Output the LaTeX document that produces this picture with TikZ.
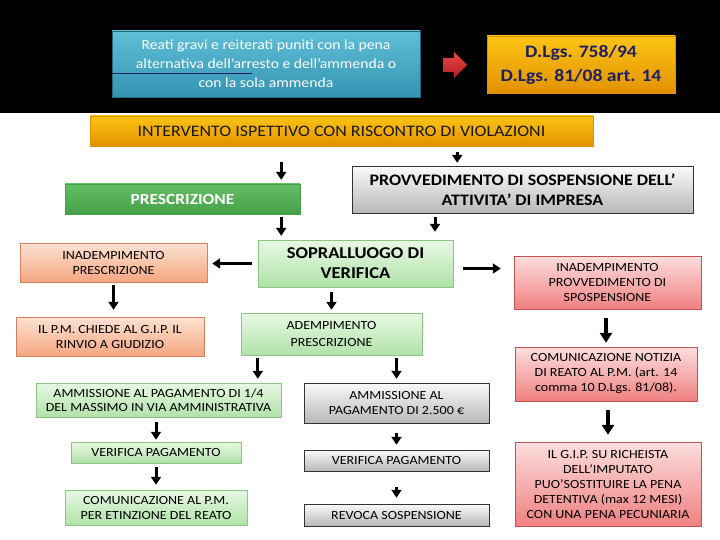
\documentclass[tikz,border=0pt]{standalone}
\usepackage{fontspec}
\setmainfont{Carlito}[FakeStretch=1.12]
\usetikzlibrary{arrows.meta,shapes.arrows}

\definecolor{bluetop}{RGB}{96,190,214}
\definecolor{bluebot}{RGB}{52,148,178}
\definecolor{navytext}{RGB}{30,32,100}
\definecolor{orangetop}{RGB}{252,196,20}
\definecolor{orangebot}{RGB}{226,146,0}
\definecolor{redtop}{RGB}{232,70,70}
\definecolor{redbot}{RGB}{176,30,36}
\definecolor{grntop}{RGB}{100,190,100}
\definecolor{grnbot}{RGB}{70,160,72}
\definecolor{lgrntop}{RGB}{232,248,228}
\definecolor{lgrnbot}{RGB}{176,226,168}
\definecolor{lgrnline}{RGB}{140,196,130}
\definecolor{salmtop}{RGB}{252,226,210}
\definecolor{salmbot}{RGB}{244,166,128}
\definecolor{salmline}{RGB}{208,130,96}
\definecolor{pinktop}{RGB}{252,222,222}
\definecolor{pinkbot}{RGB}{240,128,128}
\definecolor{pinkline}{RGB}{192,82,82}
\definecolor{greytop}{RGB}{250,250,250}
\definecolor{greybot}{RGB}{184,184,184}

\begin{document}
\begin{tikzpicture}[x=1pt,y=-1pt]
\tikzset{
  box/.style={rectangle,draw,inner sep=2pt,align=center,font=\fontsize{12.5}{15}\selectfont},
  bluebox/.style={box,draw=bluebot!70!black,top color=bluetop,bottom color=bluebot,text=white,font=\fontsize{14}{19}\selectfont},
  orangebox/.style={box,draw=orangebot,top color=orangetop,bottom color=orangebot},
  greenbox/.style={box,draw=grnbot,top color=grntop,bottom color=grnbot,text=white},
  lgreenbox/.style={box,draw=lgrnline,top color=lgrntop,bottom color=lgrnbot},
  salmonbox/.style={box,draw=salmline,top color=salmtop,bottom color=salmbot},
  pinkbox/.style={box,draw=pinkline,top color=pinktop,bottom color=pinkbot},
  greybox/.style={box,draw=black!80,top color=greytop,bottom color=greybot},
  blockarrow/.style={-{Triangle[width=10pt,length=8pt]},line width=3pt},
  bigarrow/.style={-{Triangle[width=12pt,length=10pt]},line width=4pt}
}
\useasboundingbox (0,0) rectangle (720,540);
\fill[black] (0,0) rectangle (720,113);
\node[bluebox,minimum width=308pt,minimum height=66pt] (reati) at (266,64)
  {Reati gravi e reiterati puniti con la pena\\alternativa dell’arresto e dell’ammenda o\\con la sola ammenda};
\draw[navytext,line width=0.8pt] ([yshift=-9pt]reati.west) -- ++(140,0);
\node[single arrow,draw=none,top color=redtop,bottom color=redbot,minimum height=24pt,
  single arrow head extend=6pt,inner sep=7pt] (redarrow) at (451.5,65) {};
\node[orangebox,minimum width=188pt,minimum height=57pt,text=navytext,font=\bfseries\fontsize{17.5}{24}\selectfont] (dlgs) at (581,64.5)
  {D.Lgs. 758/94\\D.Lgs. 81/08 art. 14};
\node[orangebox,minimum width=503pt,minimum height=30pt,text=black!90,font=\fontsize{16}{18}\selectfont] (intervento) at (341.5,131)
  {INTERVENTO ISPETTIVO CON RISCONTRO DI VIOLAZIONI};
\node[greenbox,minimum width=235pt,minimum height=30pt,font=\bfseries\fontsize{15.5}{18}\selectfont] (prescr) at (182.5,199)
  {PRESCRIZIONE};
\node[greybox,minimum width=341pt,minimum height=47pt,font=\bfseries\fontsize{16}{19.5}\selectfont] (provv) at (522.5,189.5)
  {PROVVEDIMENTO DI SOSPENSIONE DELL’\\ATTIVITA’ DI IMPRESA};
\node[lgreenbox,minimum width=195pt,minimum height=47pt,font=\bfseries\fontsize{16.5}{20}\selectfont] (sopr) at (355.5,263.5)
  {SOPRALLUOGO DI\\VERIFICA};
\node[salmonbox,minimum width=187pt,minimum height=39pt] (inadpres) at (113.5,262.5)
  {INADEMPIMENTO\\PRESCRIZIONE};
\node[pinkbox,minimum width=187pt,minimum height=53pt] (inadprovv) at (607.5,282.5)
  {INADEMPIMENTO\\PROVVEDIMENTO DI\\SPOSPENSIONE};
\node[salmonbox,minimum width=188pt,minimum height=39pt] (ilpm) at (110,336.5)
  {IL P.M. CHIEDE AL G.I.P. IL\\RINVIO A GIUDIZIO};
\node[lgreenbox,minimum width=181pt,minimum height=42pt,font=\fontsize{12.5}{17}\selectfont] (adem) at (331.5,334)
  {ADEMPIMENTO\\PRESCRIZIONE};
\node[pinkbox,minimum width=182pt,minimum height=54pt] (comnot) at (606,374)
  {COMUNICAZIONE NOTIZIA\\DI REATO AL P.M. (art. 14\\comma 10 D.Lgs. 81/08).};
\node[lgreenbox,minimum width=245pt,minimum height=34pt,font=\fontsize{12.5}{14}\selectfont] (amm14) at (158.5,400)
  {AMMISSIONE AL PAGAMENTO DI 1/4\\DEL MASSIMO IN VIA AMMINISTRATIVA};
\node[greybox,minimum width=185pt,minimum height=40pt] (amm2500) at (396.5,403)
  {AMMISSIONE AL\\PAGAMENTO DI 2.500 €};
\node[lgreenbox,minimum width=170pt,minimum height=21pt] (verl) at (156,452.5)
  {VERIFICA PAGAMENTO};
\node[greybox,minimum width=185pt,minimum height=21pt] (verr) at (396.5,460.5)
  {VERIFICA PAGAMENTO};
\node[lgreenbox,minimum width=182pt,minimum height=35pt] (coml) at (156,507.5)
  {COMUNICAZIONE AL P.M.\\PER ETINZIONE DEL REATO};
\node[greybox,minimum width=185pt,minimum height=22pt] (revoca) at (396.5,515)
  {REVOCA SOSPENSIONE};
\node[pinkbox,minimum width=186pt,minimum height=84pt] (gip) at (608,484)
  {IL G.I.P. SU RICHEISTA\\DELL’IMPUTATO\\PUO’SOSTITUIRE LA PENA\\DETENTIVA (max 12 MESI)\\CON UNA PENA PECUNIARIA};
\draw[blockarrow,shorten <=16pt,shorten >=4pt] ([xshift=-19pt]prescr.north east |- intervento.south) -- ([xshift=-19pt]prescr.north east);
\draw[blockarrow,shorten <=6pt,shorten >=3pt] ([xshift=-136pt]intervento.south east) -- ([xshift=-136pt]intervento.south east |- provv.north);
\draw[blockarrow,shorten <=3pt,shorten >=4pt] ([xshift=-19pt]prescr.south east) -- ([xshift=-19pt]prescr.south east |- sopr.north);
\draw[blockarrow,shorten <=4pt,shorten >=8pt] ([xshift=-87.5pt]provv.south) -- ([xshift=-87.5pt]provv.south |- sopr.north);
\draw[blockarrow,shorten <=6pt,shorten >=5pt] (sopr.west) -- (sopr.west -| inadpres.east);
\draw[blockarrow,shorten <=10pt,shorten >=13pt] ([yshift=-5pt]sopr.east) -- ([yshift=-5pt]sopr.east -| inadprovv.west);
\draw[blockarrow,shorten <=3pt,shorten >=7pt] (inadpres.south) -- (inadpres.south |- ilpm.north);
\draw[blockarrow,shorten <=5pt,shorten >=3pt] (sopr.south -| adem.north) -- (adem.north);
\draw[blockarrow,shorten <=3pt,shorten >=4pt] ([xshift=17pt]adem.south west) -- ([xshift=17pt]adem.south west |- amm14.north);
\draw[blockarrow,shorten <=3pt,shorten >=4pt] (adem.south -| amm2500.north) -- (amm2500.north);
\draw[blockarrow,shorten <=5pt,shorten >=2pt] (amm14.south -| verl.north) -- (verl.north);
\draw[blockarrow,shorten <=4pt,shorten >=5pt] (verl.south) -- (coml.north);
\draw[blockarrow,shorten <=10pt,shorten >=5pt] (amm2500.south) -- (verr.north);
\draw[blockarrow,shorten <=16pt,shorten >=6pt] (verr.south) -- (revoca.north);
\draw[bigarrow,shorten <=9pt,shorten >=4pt] (inadprovv.south -| comnot.north) -- (comnot.north);
\draw[bigarrow,shorten <=9pt,shorten >=7pt] (comnot.south -| gip.north) -- (gip.north);
\end{tikzpicture}
\end{document}
